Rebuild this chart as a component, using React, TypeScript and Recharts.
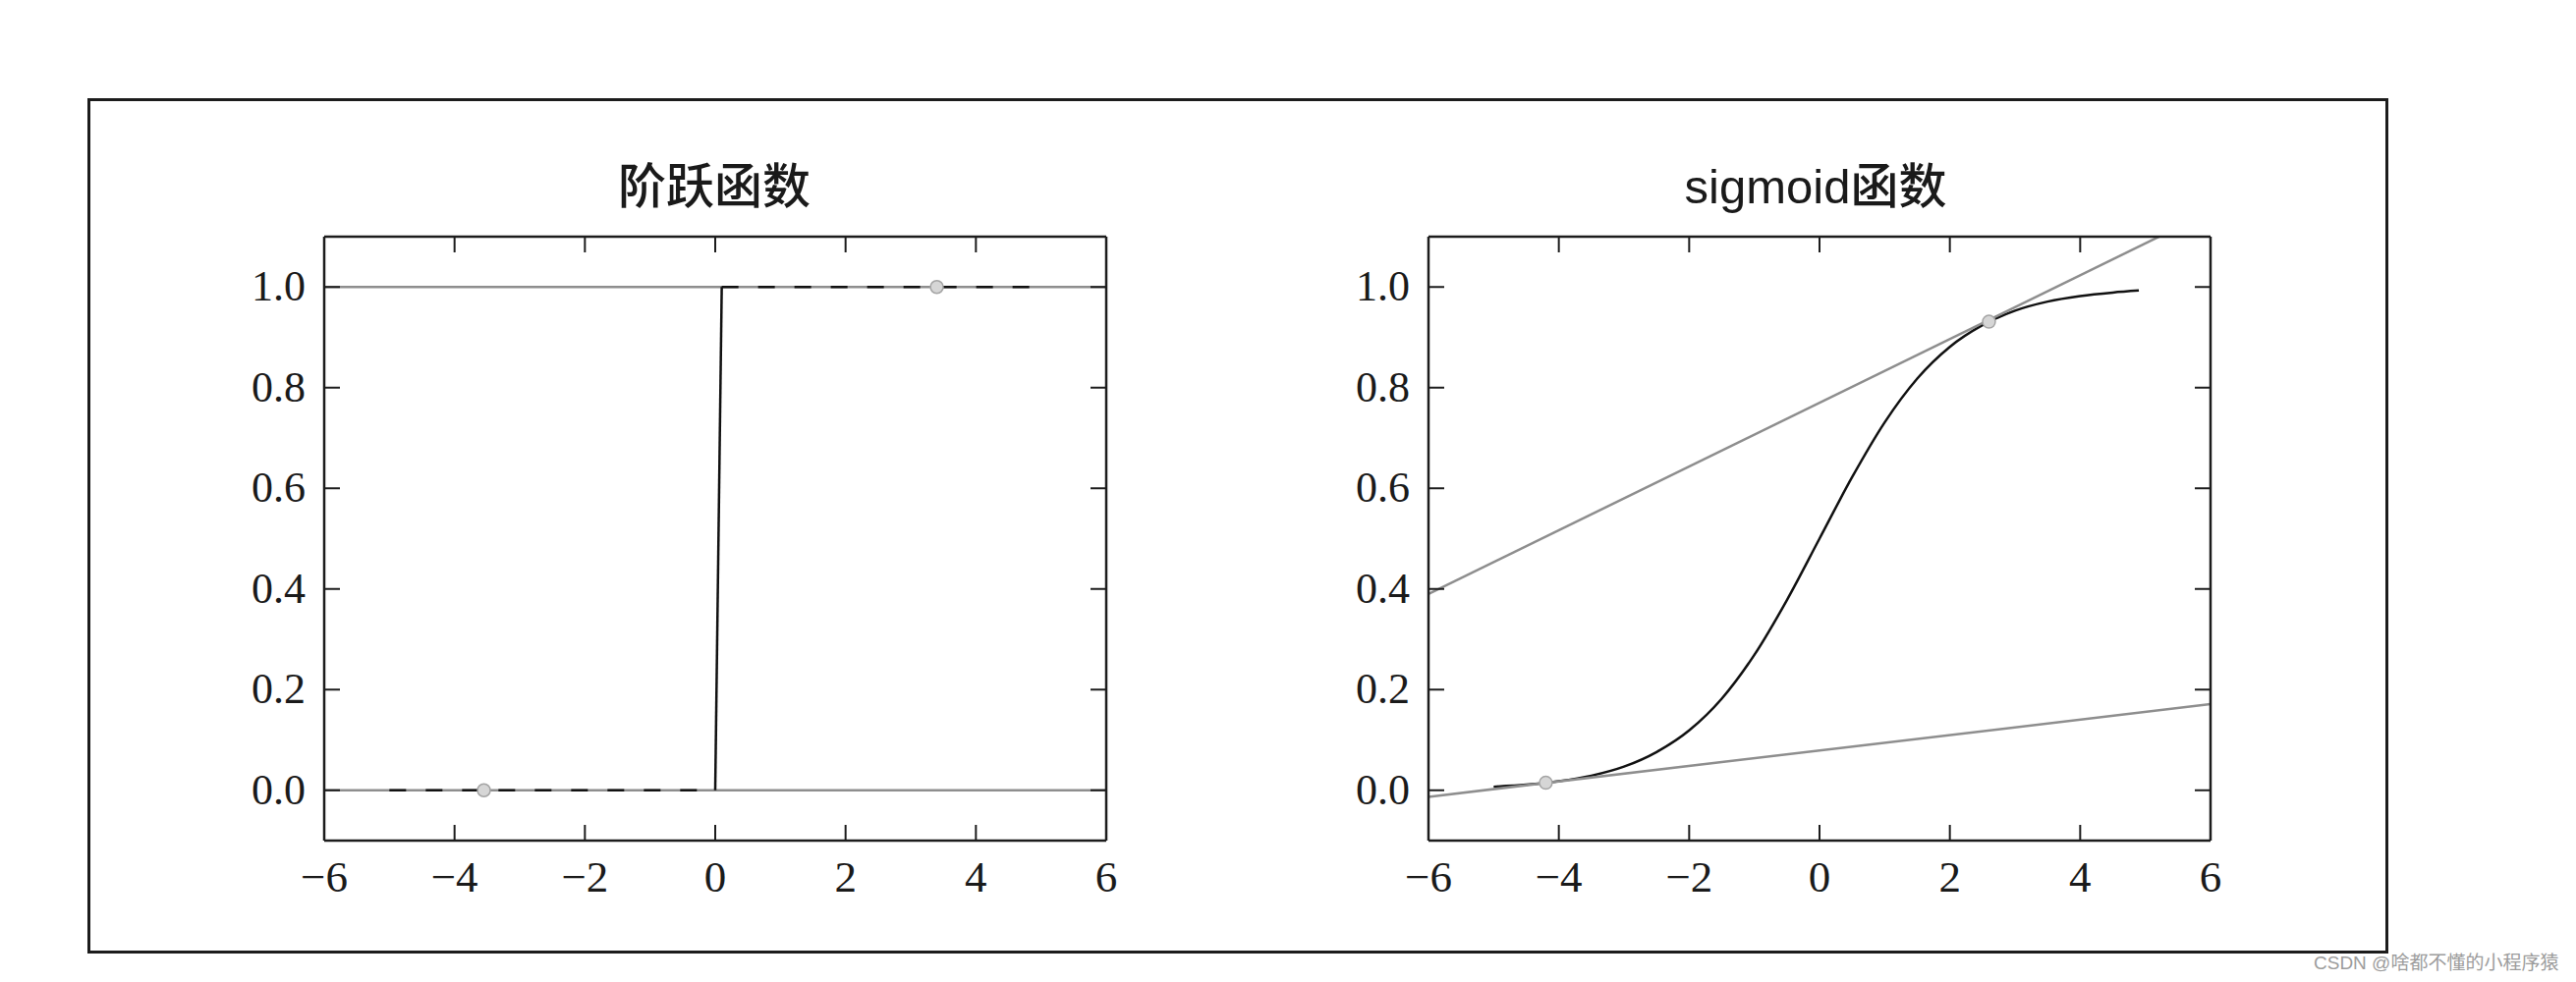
import React from 'react';
import { ComposedChart, Line, Scatter, XAxis, YAxis } from 'recharts';

// axis ticks
const xTicks = [-6, -4, -2, 0, 2, 4, 6];
const yTicks = [0, 0.2, 0.4, 0.6, 0.8, 1.0];

// step function (left panel)
const stepLow = [{ x: -5, y: 0 }, { x: 0, y: 0 }];
const stepRise = [{ x: 0, y: 0 }, { x: 0.1, y: 1 }];
const stepHigh = [{ x: 0.1, y: 1 }, { x: 4.9, y: 1 }];
const stepGuideZero = [{ x: -6, y: 0 }, { x: 6, y: 0 }];
const stepGuideOne = [{ x: -6, y: 1 }, { x: 6, y: 1 }];
const stepPoints = [{ x: -3.55, y: 0 }, { x: 3.4, y: 1 }];

// sigmoid curve (right panel)
const sigmoidX = [-5, -4.5, -4, -3.5, -3, -2.5, -2, -1.5, -1, -0.5, 0, 0.5, 1, 1.5, 2, 2.5, 3, 3.5, 4, 4.5, 4.9];
const sigmoidY = [0.007, 0.011, 0.018, 0.029, 0.047, 0.076, 0.119, 0.182, 0.269, 0.378, 0.5, 0.622, 0.731, 0.818, 0.881, 0.924, 0.953, 0.971, 0.982, 0.989, 0.993];
const tangentUpper = [{ x: -6, y: 0.39 }, { x: 6, y: 1.15 }];
const tangentLower = [{ x: -6, y: -0.013 }, { x: 6, y: 0.171 }];
const sigmoidPoints = [{ x: -4.2, y: 0.015 }, { x: 2.6, y: 0.931 }];

const sigmoidData = sigmoidX.map((x, i) => ({ x, y: sigmoidY[i] }));

const AXIS_COLOR = '#1c1c1c';
const GRAY = '#8e8e8e';
const CURVE = '#111111';
const TICK_LEN = 16;
const LABEL_FONT = '"Liberation Serif", "DejaVu Serif", serif';
const TITLE_FONT = '"Liberation Sans", "Noto Sans CJK SC", sans-serif';

const fmtX = (v: number) => (v < 0 ? '\u2212' + Math.abs(v) : String(v));

const BottomTick = ({ x, y, payload }: any) => (
  <g>
    <line x1={x} y1={y} x2={x} y2={y - TICK_LEN} stroke={AXIS_COLOR} strokeWidth={2} />
    <text x={x} y={y + 52} textAnchor="middle" fontFamily={LABEL_FONT} fontSize={45} fill="#1a1a1a">
      {fmtX(payload.value)}
    </text>
  </g>
);

const TopTick = ({ x, y }: any) => (
  <line x1={x} y1={y} x2={x} y2={y + TICK_LEN} stroke={AXIS_COLOR} strokeWidth={2} />
);

const LeftTick = ({ x, y, payload }: any) => (
  <g>
    <line x1={x} y1={y} x2={x + TICK_LEN} y2={y} stroke={AXIS_COLOR} strokeWidth={2} />
    <text x={x - 19} y={y + 14} textAnchor="end" fontFamily={LABEL_FONT} fontSize={44} fill="#1a1a1a">
      {payload.value.toFixed(1)}
    </text>
  </g>
);

const RightTick = ({ x, y }: any) => (
  <line x1={x} y1={y} x2={x - TICK_LEN} y2={y} stroke={AXIS_COLOR} strokeWidth={2} />
);

const Dot = ({ cx, cy }: any) => (
  <circle cx={cx} cy={cy} r={6.5} fill="#d6d6d6" stroke="#a4a4a4" strokeWidth={1.5} />
);

const axisLine = { stroke: AXIS_COLOR, strokeWidth: 2.5 };

const axes = [
  <XAxis key="xb" dataKey="x" type="number" domain={[-6, 6]} ticks={xTicks} interval={0} allowDataOverflow
    height={70} tickSize={0} tickMargin={0} tickLine={false} axisLine={axisLine} tick={<BottomTick />} />,
  <XAxis key="xt" xAxisId="top" orientation="top" dataKey="x" type="number" domain={[-6, 6]} ticks={xTicks}
    interval={0} allowDataOverflow height={20} tickSize={0} tickMargin={0} tickLine={false} axisLine={axisLine}
    tick={<TopTick />} />,
  <YAxis key="yl" dataKey="y" type="number" domain={[-0.1, 1.1]} ticks={yTicks} interval={0} allowDataOverflow
    width={110} tickSize={0} tickMargin={0} tickLine={false} axisLine={axisLine} tick={<LeftTick />} />,
  <YAxis key="yr" yAxisId="right" orientation="right" dataKey="y" type="number" domain={[-0.1, 1.1]} ticks={yTicks}
    interval={0} allowDataOverflow width={20} tickSize={0} tickMargin={0} tickLine={false} axisLine={axisLine}
    tick={<RightTick />} />,
];

const CHART_W = 926;
const CHART_H = 705;
const margin = { top: 0, right: 0, bottom: 0, left: 0 };

export default function App() {
  return (
    <div style={{ position: 'absolute', left: 0, top: 0, width: 2622, height: 1000, background: '#fff' }}>
      <div
        style={{
          position: 'absolute', left: 89, top: 100, width: 2342, height: 871,
          border: '3px solid #1c1c1c', boxSizing: 'border-box',
        }}
      />
      <svg width={2622} height={1000} style={{ position: 'absolute', left: 0, top: 0 }}>
        <text x={727} y={207} textAnchor="middle" fontFamily={TITLE_FONT} fontSize={49} fontWeight={500} fill="#1a1a1a">阶跃函数</text>
        <text x={1848} y={207} textAnchor="middle" fontFamily={TITLE_FONT} fontSize={49} fontWeight={500} fill="#1a1a1a">sigmoid函数</text>
        <text x={2355} y={987} fontFamily={TITLE_FONT} fontSize={19} fill="#9c9c9c">CSDN @啥都不懂的小程序猿</text>
      </svg>

      <div style={{ position: 'absolute', left: 220, top: 221 }}>
        <ComposedChart width={CHART_W} height={CHART_H} margin={margin}>
          {axes}
          <Line data={stepGuideZero} dataKey="y" type="linear" stroke={GRAY} strokeWidth={2.5} dot={false} activeDot={false} isAnimationActive={false} />
          <Line data={stepGuideOne} dataKey="y" type="linear" stroke={GRAY} strokeWidth={2.5} dot={false} activeDot={false} isAnimationActive={false} />
          <Line data={stepLow} dataKey="y" type="linear" stroke={CURVE} strokeWidth={2.5} strokeDasharray="17 20" dot={false} activeDot={false} isAnimationActive={false} />
          <Line data={stepHigh} dataKey="y" type="linear" stroke={CURVE} strokeWidth={2.5} strokeDasharray="17 20" dot={false} activeDot={false} isAnimationActive={false} />
          <Line data={stepRise} dataKey="y" type="linear" stroke={CURVE} strokeWidth={2.5} dot={false} activeDot={false} isAnimationActive={false} />
          <Scatter data={stepPoints} shape={<Dot />} isAnimationActive={false} />
        </ComposedChart>
      </div>

      <div style={{ position: 'absolute', left: 1344, top: 221 }}>
        <ComposedChart width={CHART_W} height={CHART_H} margin={margin}>
          {axes}
          <Line data={sigmoidData} dataKey="y" type="monotone" stroke={CURVE} strokeWidth={2.5} dot={false} activeDot={false} isAnimationActive={false} />
          <Line data={tangentUpper} dataKey="y" type="linear" stroke={GRAY} strokeWidth={2.5} dot={false} activeDot={false} isAnimationActive={false} />
          <Line data={tangentLower} dataKey="y" type="linear" stroke={GRAY} strokeWidth={2.5} dot={false} activeDot={false} isAnimationActive={false} />
          <Scatter data={sigmoidPoints} shape={<Dot />} isAnimationActive={false} />
        </ComposedChart>
      </div>
    </div>
  );
}
